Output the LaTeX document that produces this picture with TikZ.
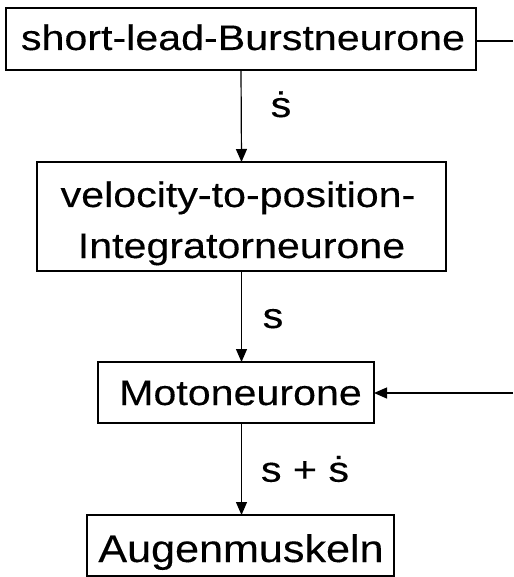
\documentclass[tikz,border=0pt]{standalone}
\usepackage{fontspec}
\setmainfont{Liberation Sans}[FakeStretch=1.16,FakeBold=0.25]
\newfontfamily\bigfont{Liberation Sans}[FakeStretch=1.12,FakeBold=0.25]
\usetikzlibrary{arrows.meta}
\begin{document}
\begin{tikzpicture}[x=1pt,y=-1pt,
  every node/.style={inner sep=0pt,outer sep=0pt},
  boxnode/.style={draw,line width=1.3pt,rectangle},
  txt/.style={anchor=base,font=\fontsize{35.5}{51}\selectfont},
  conn/.style={line width=1.2pt,-{Triangle[length=13pt,width=11pt]}},
  plainline/.style={line width=1.2pt}]
\useasboundingbox (0,0) rectangle (513,577);
\fill[white] (0,0) rectangle (513,577);
% boxes
\node[boxnode,minimum width=470pt,minimum height=62pt] (b1) at (241,39) {};
\node[boxnode,minimum width=409pt,minimum height=109pt] (b2) at (241.5,216.5) {};
\node[boxnode,minimum width=276pt,minimum height=61pt] (b3) at (236,392.5) {};
\node[boxnode,minimum width=307pt,minimum height=61pt] (b4) at (240.5,545.5) {};
% texts
\node[txt] (t1) at (243,50) {short-lead-Burstneurone};
\node[txt] (t2a) at (238,207) {velocity-to-position-};
\node[txt] (t2b) at (241.5,258) {Integratorneurone};
\node[txt] (t3) at (240.5,405) {Motoneurone};
\node[txt,font=\bigfont\fontsize{38.5}{46}\selectfont] (t4) at (241,562) {Augenmuskeln};
% labels
\node[txt] (l1) at (281,117) {ṡ};
\node[txt] (l2) at (273,328) {s};
\node[txt] (l3) at (305,481.7) {s + ṡ};
% external ends
\coordinate (e1) at (513,41);
\coordinate (e3) at (513,393);
% connectors
\draw[plainline] (b1.east |- e1) -- (e1);
\draw[conn] (b1.south) -- (b2.north);
\draw[conn] (b2.south) -- (b2.south |- b3.north);
\draw[conn] (b2.south |- b3.south) -- (b2.south |- b4.north);
\draw[conn] (e3) -- (b3.east |- e3);
\end{tikzpicture}
\end{document}
